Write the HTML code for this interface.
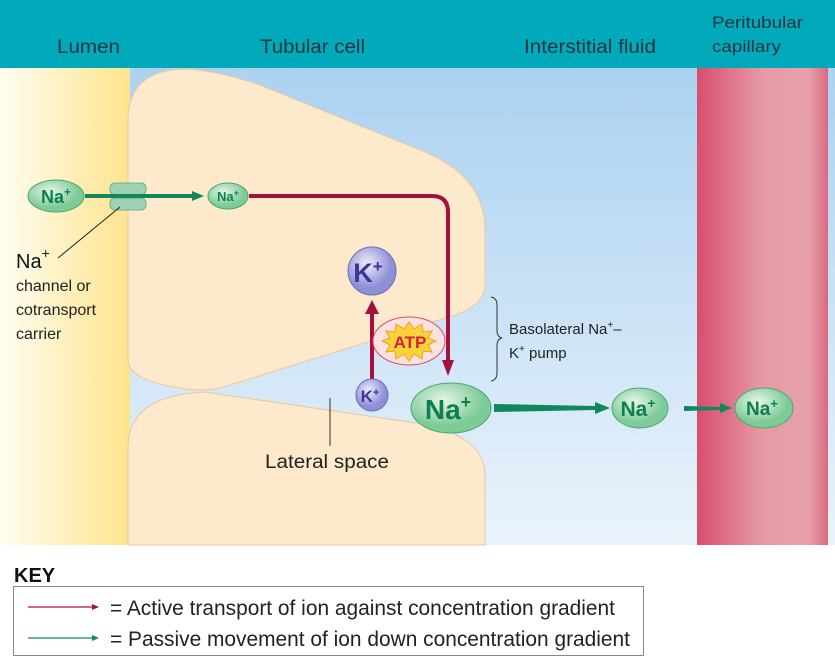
<!DOCTYPE html>
<html><head><style>
body{margin:0;width:835px;height:658px;overflow:hidden;background:#fff;font-family:"Liberation Sans",sans-serif}
</style></head><body>
<svg width="835" height="658" xmlns="http://www.w3.org/2000/svg" font-family="Liberation Sans, sans-serif">
<defs>
<linearGradient id="lum" x1="0" x2="1"><stop offset="0" stop-color="#fffdf2"/><stop offset="1" stop-color="#fde48c"/></linearGradient>
<linearGradient id="cap" x1="0" x2="1"><stop offset="0" stop-color="#d84e6e"/><stop offset="0.5" stop-color="#e69aa6"/><stop offset="0.85" stop-color="#e7a1ab"/><stop offset="1" stop-color="#d96a80"/></linearGradient>
<linearGradient id="blue" x1="0" y1="0" x2="0" y2="1"><stop offset="0" stop-color="#abd2f0"/><stop offset="1" stop-color="#eaf3fb"/></linearGradient>
<radialGradient id="gi" cx="0.4" cy="0.35"><stop offset="0" stop-color="#e6f6ea"/><stop offset="1" stop-color="#7fcb98"/></radialGradient>
<radialGradient id="ki" cx="0.4" cy="0.35"><stop offset="0" stop-color="#eeeefc"/><stop offset="1" stop-color="#8f8fd6"/></radialGradient>
</defs>
<rect x="0" y="68" width="835" height="477" fill="url(#blue)"/>
<rect x="0" y="68" width="130" height="477" fill="url(#lum)"/>
<rect x="697" y="68" width="131" height="477" fill="url(#cap)"/>
<rect x="0" y="0" width="835" height="68" fill="#00aabb"/>
<text x="57" y="53" font-size="19" fill="#1c3340" textLength="63" lengthAdjust="spacingAndGlyphs">Lumen</text>
<text x="260" y="53" font-size="19" fill="#1c3340" textLength="105" lengthAdjust="spacingAndGlyphs">Tubular cell</text>
<text x="524" y="53" font-size="19" fill="#1c3340" textLength="132" lengthAdjust="spacingAndGlyphs">Interstitial fluid</text>
<text x="712" y="28" font-size="17" fill="#1c3340" textLength="91" lengthAdjust="spacingAndGlyphs">Peritubular</text>
<text x="712" y="52" font-size="17" fill="#1c3340" textLength="69" lengthAdjust="spacingAndGlyphs">capillary</text>
<path d="M128,545 L128,445 Q130,395 205,392 L430,425 Q485,440 485,475 L485,545 Z" fill="#fde9cc" stroke="#e8c8a0"/>
<path d="M128,360 L128,120 Q128,70 185,69 Q215,70 260,85 L420,150 Q485,175 485,230 L485,285 Q485,305 455,315 L220,388 Q200,392 180,388 Q128,380 128,360 Z" fill="#fde9cc" stroke="#e8c8a0"/>
<rect x="110" y="183" width="36" height="12" rx="5" fill="#9ed2b4" stroke="#6fb28e"/>
<rect x="110" y="198" width="36" height="12" rx="5" fill="#9ed2b4" stroke="#6fb28e"/>
<line x1="85" y1="196" x2="194" y2="196" stroke="#12875a" stroke-width="4"/>
<polygon points="192,191 204,196 192,201" fill="#12875a"/>
<line x1="120" y1="207" x2="58" y2="258" stroke="#222" stroke-width="1"/>
<ellipse cx="56" cy="196" rx="28" ry="16" fill="url(#gi)" stroke="#4aa874"/>
<text x="56" y="203" font-size="18" font-weight="bold" fill="#0f7f4f" text-anchor="middle">Na<tspan font-size="12" dy="-7">+</tspan></text>
<ellipse cx="228" cy="196" rx="20" ry="13" fill="url(#gi)" stroke="#4aa874"/>
<text x="228" y="201" font-size="13" font-weight="bold" fill="#0f7f4f" text-anchor="middle">Na<tspan font-size="9" dy="-5">+</tspan></text>
<path d="M249,196 L432,196 Q448,196 448,212 L448,362" fill="none" stroke="#a3123f" stroke-width="4"/>
<polygon points="442,360 448,376 454,360" fill="#a3123f"/>
<line x1="372" y1="380" x2="372" y2="312" stroke="#a3123f" stroke-width="4"/>
<polygon points="365,314 372,300 379,314" fill="#a3123f"/>
<circle cx="372" cy="271" r="24" fill="url(#ki)" stroke="#6c6cc0"/>
<text x="368" y="282" font-size="27" font-weight="bold" fill="#3b3598" text-anchor="middle">K<tspan font-size="17" dy="-10">+</tspan></text>
<circle cx="372" cy="395" r="16" fill="url(#ki)" stroke="#6c6cc0"/>
<text x="370" y="402" font-size="17" font-weight="bold" fill="#3b3598" text-anchor="middle">K<tspan font-size="11" dy="-6">+</tspan></text>
<ellipse cx="409" cy="341" rx="36" ry="24" fill="#fbe1e0" stroke="#d4505e"/>
<polygon points="409,322 414,329 422,324 423,332 432,331 428,338 436,341 428,345 432,352 423,351 422,359 414,354 409,361 404,354 396,359 395,351 386,352 390,345 382,341 390,338 386,331 395,332 396,324 404,329" fill="#fbd23a" stroke="#f0a020"/>
<text x="410" y="348" font-size="17" font-weight="bold" fill="#d6203c" text-anchor="middle">ATP</text>
<ellipse cx="451" cy="408" rx="40" ry="25" fill="url(#gi)" stroke="#4aa874"/>
<text x="448" y="419" font-size="28" font-weight="bold" fill="#0f7f4f" text-anchor="middle">Na<tspan font-size="18" dy="-11">+</tspan></text>
<polygon points="494,404 595,406 595,402 610,408 595,414 595,410 494,412" fill="#12875a"/>
<ellipse cx="640" cy="408" rx="28" ry="20" fill="url(#gi)" stroke="#4aa874"/>
<text x="638" y="416" font-size="21" font-weight="bold" fill="#0f7f4f" text-anchor="middle">Na<tspan font-size="14" dy="-8">+</tspan></text>
<polygon points="684,406 720,407 720,403 732,408 720,413 720,410 684,411" fill="#12875a"/>
<ellipse cx="764" cy="408" rx="29" ry="20" fill="url(#gi)" stroke="#4aa874"/>
<text x="762" y="415" font-size="19" font-weight="bold" fill="#0f7f4f" text-anchor="middle">Na<tspan font-size="13" dy="-7">+</tspan></text>
<path d="M491,297 Q497,298 497,305 L497,330 Q497,337 502,338 Q497,339 497,346 L497,373 Q497,380 491,381" fill="none" stroke="#333" stroke-width="1"/>
<text x="509" y="334" font-size="15" fill="#222">Basolateral Na<tspan font-size="10" dy="-6">+</tspan><tspan dy="6">–</tspan></text>
<text x="509" y="358" font-size="15" fill="#222">K<tspan font-size="10" dy="-6">+</tspan><tspan dy="6"> pump</tspan></text>
<line x1="330" y1="398" x2="330" y2="446" stroke="#333" stroke-width="1"/>
<text x="265" y="468" font-size="19" fill="#222" textLength="124" lengthAdjust="spacingAndGlyphs">Lateral space</text>
<text x="16" y="268" font-size="20" fill="#111">Na<tspan font-size="14" dy="-10">+</tspan></text>
<text x="16" y="291" font-size="16" fill="#222">channel or</text>
<text x="16" y="315" font-size="16" fill="#222">cotransport</text>
<text x="16" y="339" font-size="16" fill="#222">carrier</text>
<text x="14" y="582" font-size="20" font-weight="bold" fill="#111">KEY</text>
<rect x="13.5" y="586.5" width="630" height="69" fill="none" stroke="#888"/>
<line x1="28" y1="607" x2="92" y2="607" stroke="#a3123f" stroke-width="1.3"/>
<polygon points="92,604 99,607 92,610" fill="#a3123f"/>
<line x1="28" y1="638" x2="92" y2="638" stroke="#12875a" stroke-width="1.3"/>
<polygon points="92,635 99,638 92,641" fill="#12875a"/>
<text x="110" y="615" font-size="21" fill="#222" textLength="505" lengthAdjust="spacingAndGlyphs">= Active transport of ion against concentration gradient</text>
<text x="110" y="646" font-size="21" fill="#222" textLength="520" lengthAdjust="spacingAndGlyphs">= Passive movement of ion down concentration gradient</text>
</svg>
</body></html>
